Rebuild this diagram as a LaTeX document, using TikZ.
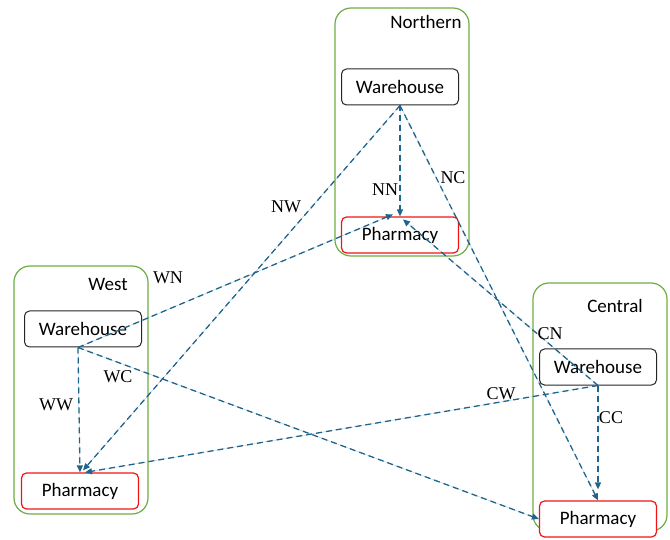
\documentclass[tikz,border=0pt]{standalone}
\usepackage{fontspec}
\setmainfont{Carlito}
\newfontfamily\tagfont{Liberation Serif}
\usetikzlibrary{positioning,arrows.meta}

\definecolor{regiongreen}{RGB}{112,173,71}
\definecolor{pharmred}{RGB}{240,20,20}
\definecolor{flowblue}{RGB}{31,100,140}

\begin{document}
\begin{tikzpicture}[
    x=1pt, y=-1pt,
    region/.style={rectangle, draw=regiongreen, line width=1.2pt, rounded corners=16pt, minimum width=134pt, minimum height=248pt},
    whouse/.style={rectangle, draw=black!85, fill=white, line width=1pt, rounded corners=5pt, minimum width=117pt, minimum height=36pt, font=\fontsize{19}{22}\selectfont},
    pharm/.style={whouse, draw=pharmred, line width=1.2pt},
    rname/.style={font=\fontsize{19}{22}\selectfont},
    route/.style={-{Triangle[length=7pt,width=6pt]}, dash pattern=on 6pt off 4pt, line width=1.3pt, draw=flowblue, fill=flowblue},
    tag/.style={font=\tagfont\fontsize{18}{21}\selectfont}
]
    \useasboundingbox (0,0) rectangle (670,540);

    % regions
    \node[region] (north) at (402,132) {};
    \node[region] (west) at (81,390) {};
    \node[region] (central) at (600,407) {};
    \node[rname] (northname) at (426,22) {Northern};
    \node[rname] (westname) at (108,284) {West};
    \node[rname] (centralname) at (615,306) {Central};

    % warehouses and pharmacies
    \node[whouse] (whN) at (400,87) {Warehouse};
    \node[pharm] (phN) at (400,235) {Pharmacy};
    \node[whouse] (whW) at (83,329) {Warehouse};
    \node[pharm] (phW) at (80,491) {Pharmacy};
    \node[whouse] (whC) at (598,367) {Warehouse};
    \node[pharm] (phC) at (598,519) {Pharmacy};

    % routes
    \draw[route] (whN.south) -- (phN.north);
    \draw[route] (whN.south) -- ([xshift=3pt,yshift=2pt]phW.north);
    \draw[route] (whN.south) -- (phC.north);
    \draw[route] ([xshift=-5pt]whW.south) -- ([xshift=-7pt,yshift=2pt]phN.north);
    \draw[route] ([xshift=-5pt]whW.south) -- (phW.north);
    \draw[route] ([xshift=-5pt]whW.south) -- (phC.west);
    \draw[route] (whC.south) -- ([xshift=3pt,yshift=-3pt]phN.north);
    \draw[route] (whC.south) -- ([xshift=5pt]phW.north);
    \draw[route] (whC.south) -- ([yshift=11pt]phC.north);

    % route labels
    \node[tag] (lNN) at (385,190) {NN};
    \node[tag] (lNW) at (286,207) {NW};
    \node[tag] (lNC) at (453,178) {NC};
    \node[tag] (lWN) at (168,278) {WN};
    \node[tag] (lWW) at (56,405) {WW};
    \node[tag] (lWC) at (118,377) {WC};
    \node[tag] (lCN) at (550,334) {CN};
    \node[tag] (lCW) at (501,394) {CW};
    \node[tag] (lCC) at (611,418) {CC};
\end{tikzpicture}
\end{document}
